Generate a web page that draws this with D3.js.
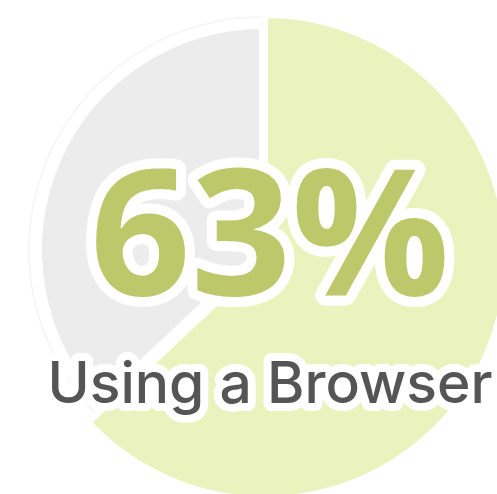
<!DOCTYPE html>
<html>
<head>
<meta charset="utf-8">
<script src="https://cdn.jsdelivr.net/npm/d3@7"></script>
<style>
  html, body { margin: 0; padding: 0; background: #ffffff; }
  svg { display: block; }
</style>
</head>
<body>
<svg id="chart" width="497" height="494"></svg>
<script>
// Share of sessions by access method
const categories = ["Using a Browser", "Other"];
const values = [63, 37];
const sliceColors = ["#eaf2bd", "#ececec"];
const headlineColor = "#bdc86a";
const labelColor = "#555555";

const width = 497, height = 494;
const svg = d3.select("#chart");

const pie = d3.pie().sort(null).value(d => d)(values);

// base ring and the muted slice share one centre; the highlighted slice is lifted out
const base = { x: 262, y: 250, r: 233 };
const hi = { x: 265, y: 257, r: 242 };

svg.append("circle")
  .attr("cx", base.x).attr("cy", base.y).attr("r", base.r)
  .attr("fill", "#ffffff")
  .attr("stroke", "#f4f4f4")
  .attr("stroke-width", 1.5);

const mutedArc = d3.arc().innerRadius(0).outerRadius(225);
svg.append("path")
  .attr("transform", `translate(${base.x + 1},${base.y})`)
  .attr("d", mutedArc(pie[1]))
  .attr("fill", sliceColors[1])
  .attr("stroke", "#ffffff")
  .attr("stroke-width", 8)
  .attr("stroke-linejoin", "round");

const hiArc = d3.arc().innerRadius(0).outerRadius(hi.r);
svg.append("path")
  .attr("transform", `translate(${hi.x},${hi.y})`)
  .attr("d", hiArc(pie[0]))
  .attr("fill", sliceColors[0])
  .attr("stroke", "#ffffff")
  .attr("stroke-width", 6)
  .attr("stroke-linejoin", "round");

const pct = Math.round(values[0] / d3.sum(values) * 100) + "%";

svg.append("text")
  .attr("x", 270).attr("y", 295)
  .attr("text-anchor", "middle")
  .attr("font-family", "'Open Sans', Inter, sans-serif")
  .attr("font-weight", 700)
  .attr("font-size", 176)
  .attr("fill", headlineColor)
  .attr("stroke", "#ffffff")
  .attr("stroke-width", 20)
  .attr("stroke-linejoin", "round")
  .attr("paint-order", "stroke")
  .text(pct);

svg.append("text")
  .attr("x", 270).attr("y", 403)
  .attr("text-anchor", "middle")
  .attr("font-family", "Inter, 'Open Sans', sans-serif")
  .attr("font-weight", 500)
  .attr("font-size", 57)
  .attr("fill", labelColor)
  .attr("stroke", "#ffffff")
  .attr("stroke-width", 16)
  .attr("stroke-linejoin", "round")
  .attr("paint-order", "stroke")
  .text(categories[0]);
</script>
</body>
</html>
